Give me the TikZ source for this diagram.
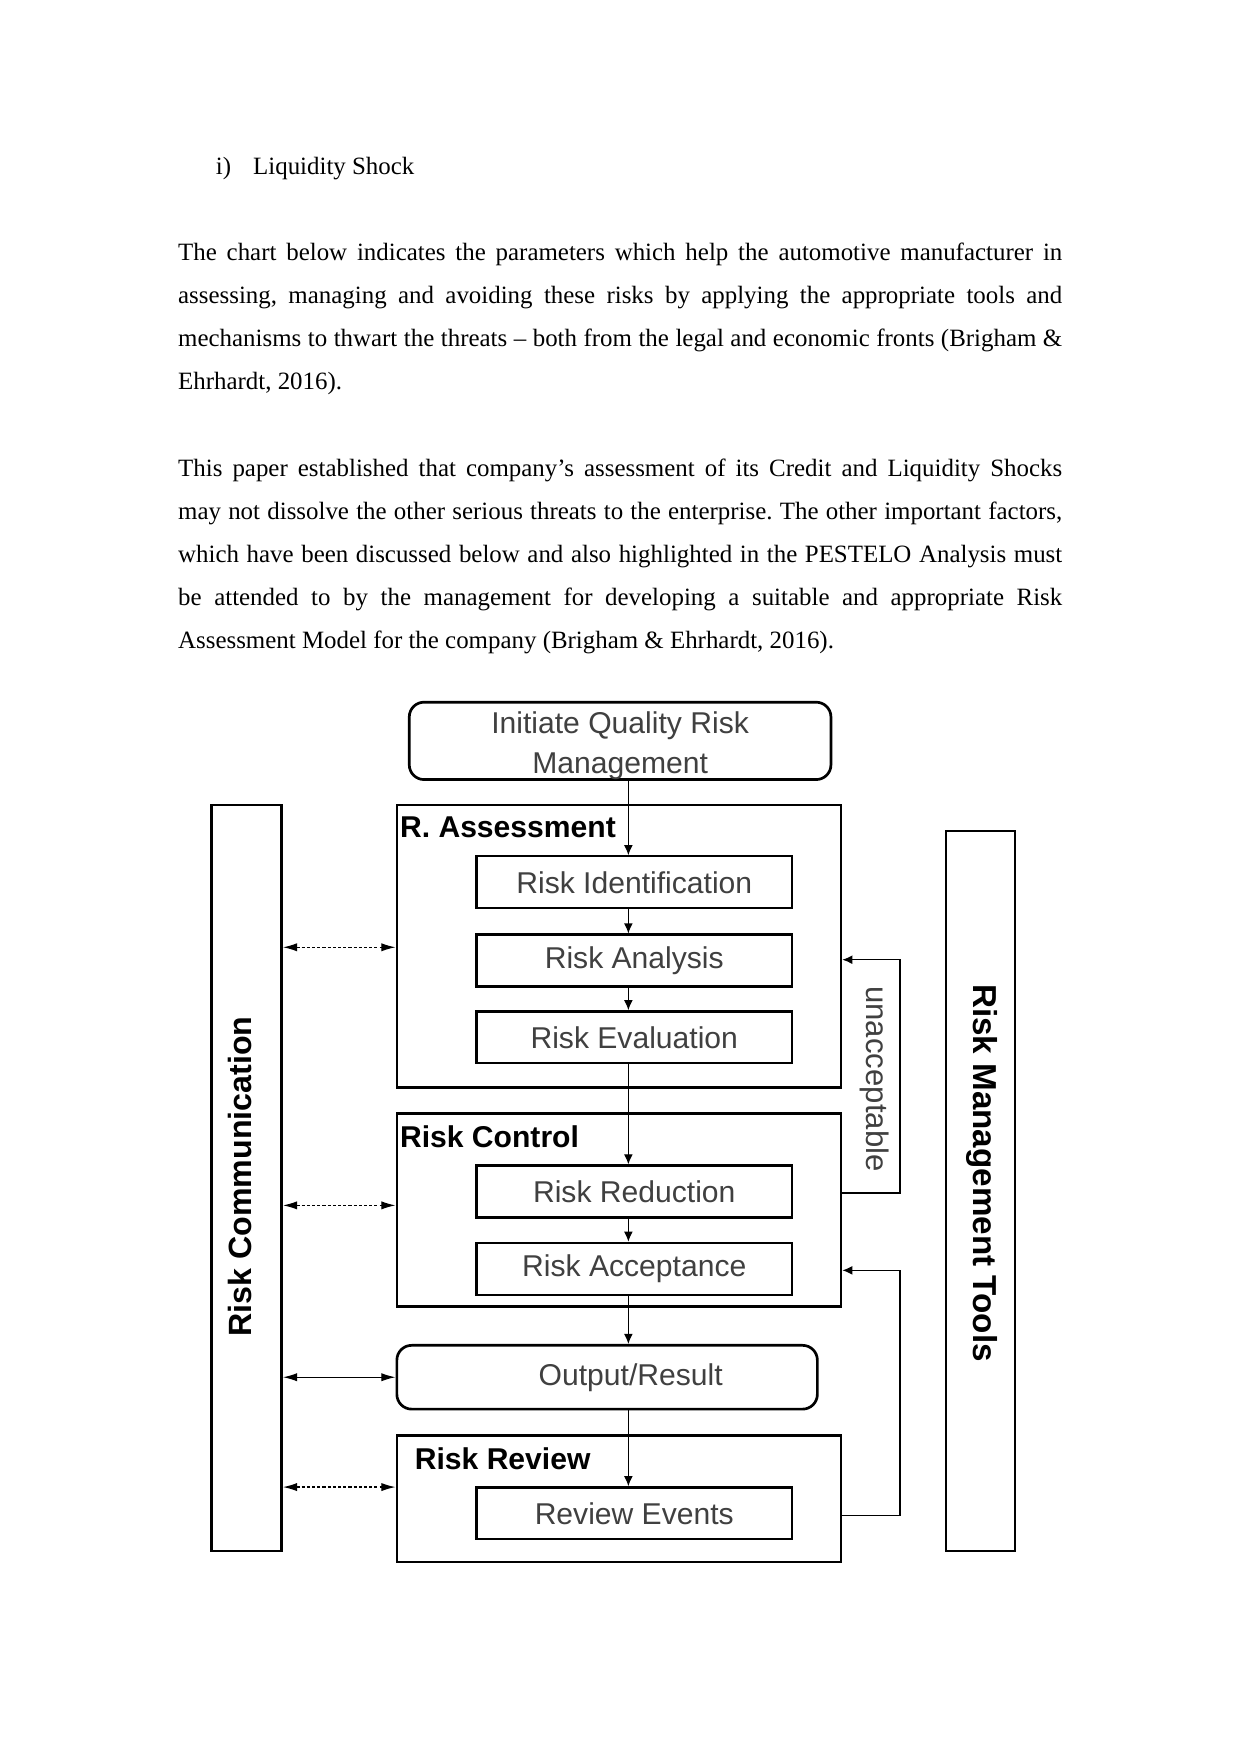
\documentclass[tikz,border=0pt]{standalone}
\usepackage{fontspec}
\setmainfont{Liberation Serif}
\newfontfamily\diagfont{Liberation Sans}
\usetikzlibrary{arrows.meta}

\begin{document}
\begin{tikzpicture}[
    para/.style={anchor=base west, inner sep=0pt, text width=149.7mm, align=justify, font=\fontsize{12}{20.7}\selectfont\frenchspacing},
    boxtext/.style={font=\diagfont\fontsize{14.5}{19.5}\selectfont, text=black!75},
    inbox/.style={draw, line width=1.1pt, minimum width=5.34cm, minimum height=0.88cm, inner sep=0pt, boxtext},
    stage/.style={draw, line width=1.3pt, minimum width=7.52cm, inner sep=0pt},
    stagelbl/.style={anchor=north west, inner sep=2pt, yshift=-1.5mm, font=\diagfont\bfseries\fontsize{14.5}{17}\selectfont},
    roundbox/.style={draw, line width=1.3pt, rounded corners=2.5mm, inner sep=0pt, boxtext},
    bar/.style={draw, line width=1.2pt, inner sep=0pt},
    bartext/.style={font=\diagfont\bfseries\fontsize{15.5}{18}\selectfont},
    flow/.style={line width=0.6pt, -{Latex[length=1.7mm,width=1.5mm]}},
    comm/.style={line width=0.6pt, {Latex[length=2.4mm,width=1.4mm]}-{Latex[length=2.4mm,width=1.4mm]}}
]
    \fill[white] (0,0) rectangle (21,-29.7);
    \useasboundingbox (0,0) rectangle (21,-29.7);
    % text of the page
    \node[anchor=base west, inner sep=0pt, font=\fontsize{12}{14}\selectfont] (item) at (3.65,-2.96) {i)};
    \node[anchor=base west, inner sep=0pt, font=\fontsize{12}{14}\selectfont] (itemtext) at (4.28,-2.96) {Liquidity Shock};
    \node[para] (par1) at (3.01,-4.41) {The chart below indicates the parameters which help the automotive manufacturer in\linebreak assessing, managing and avoiding these risks by applying the appropriate tools and\linebreak mechanisms to thwart the threats – both from the legal and economic fronts (Brigham \&\linebreak Ehrhardt, 2016).};
    \node[para] (par2) at (3.01,-8.07) {This paper established that company’s assessment of its Credit and Liquidity Shocks\linebreak may not dissolve the other serious threats to the enterprise. The other important factors,\linebreak which have been discussed below and also highlighted in the PESTELO Analysis must\linebreak be attended to by the management for developing a suitable and appropriate Risk\linebreak Assessment Model for the company (Brigham \& Ehrhardt, 2016).};
    % chart
    \node[roundbox, minimum width=7.14cm, minimum height=1.31cm, label={[boxtext, align=center, yshift=-0.8mm]center:Initiate Quality Risk\\Management}] (init) at (10.50,-12.545) {};
    \node[stage, minimum height=4.79cm] (assess) at (10.48,-16.025) {};
    \node[stagelbl] (assesslbl) at (assess.north west) {R. Assessment};
    \node[inbox] (ident) at (10.74,-14.94) {Risk Identification};
    \node[inbox] (analysis) at (10.74,-16.265) {Risk Analysis};
    \node[inbox] (evaluation) at (10.74,-17.565) {Risk Evaluation};
    \node[stage, minimum height=3.26cm] (control) at (10.48,-20.49) {};
    \node[stagelbl] (controllbl) at (control.north west) {Risk Control};
    \node[inbox] (reduction) at (10.74,-20.175) {Risk Reduction};
    \node[inbox] (acceptance) at (10.74,-21.485) {Risk Acceptance};
    \node[roundbox, minimum width=7.12cm, minimum height=1.08cm, label={[boxtext, xshift=4mm]center:Output/Result}] (output) at (10.28,-23.32) {};
    \node[stage, minimum height=2.14cm] (review) at (10.48,-25.38) {};
    \node[stagelbl, xshift=2.5mm] (reviewlbl) at (review.north west) {Risk Review};
    \node[inbox] (events) at (10.74,-25.625) {Review Events};
    \node[bar, minimum width=1.19cm, minimum height=12.63cm] (comm) at (4.175,-19.945) {};
    \node[bartext, rotate=90] (commlbl) at (4.06,-19.92) {Risk Communication};
    \node[bar, minimum width=1.17cm, minimum height=12.19cm] (tools) at (16.605,-20.165) {};
    \node[bartext, rotate=-90, font=\diagfont\bfseries\fontsize{16}{18}\selectfont] (toolslbl) at (16.62,-19.86) {Risk Management Tools};
    \node[boxtext, rotate=-90, font=\diagfont\fontsize{15}{18}\selectfont] (unacc) at (14.80,-18.27) {unacceptable};
    % main flow
    \coordinate (flowx) at (10.64,0);
    \draw[flow] (init.south -| flowx) -- (ident.north -| flowx);
    \foreach \a/\b in {ident/analysis, analysis/evaluation, evaluation/reduction, reduction/acceptance, acceptance/output, output/events}
        \draw[flow] (\a.south -| flowx) -- (\b.north -| flowx);
    % loops back
    \coordinate (loopA) at (15.24,-20.20);
    \coordinate (loopR) at (15.24,-16.25);
    \draw[flow] (control.east |- loopA) -- (loopA) -- (loopR) -- (assess.east |- loopR);
    \coordinate (loopB) at (15.24,-25.66);
    \coordinate (loopC) at (15.24,-21.51);
    \draw[flow] (review.east |- loopB) -- (loopB) -- (loopC) -- (control.east |- loopC);
    % communication
    \foreach \n/\yy in {assess/-16.04, control/-20.41, review/-25.18} {
        \coordinate (c\n) at (0,\yy);
        \draw[comm, dash pattern=on 1.5pt off 1pt] (comm.east |- c\n) -- (\n.west |- c\n);
    }
    \draw[comm] (comm.east |- output.west) -- (output.west);
\end{tikzpicture}
\end{document}
